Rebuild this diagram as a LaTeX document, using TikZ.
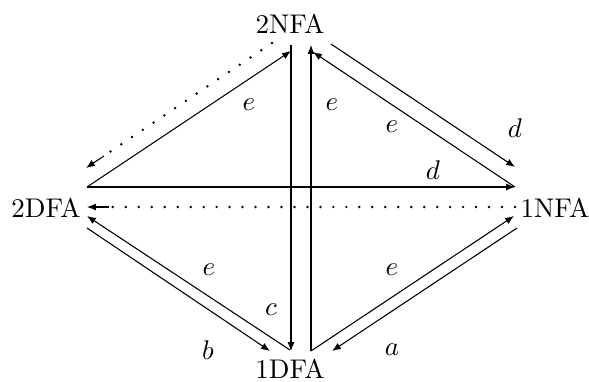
\documentclass[tikz,border=0pt]{standalone}
\usetikzlibrary{arrows.meta,calc}
\begin{document}
\begin{tikzpicture}[x=0.37pt,y=-0.37pt,
  state/.style={inner sep=0pt},
  lab/.style={inner sep=0pt},
  arr/.style={-{Latex[length=3.3pt,width=2.6pt]}},
  dotline/.style={line width=1pt,line cap=round,dash pattern=on 0pt off 4.8pt},
  tipseg/.style={-{Latex[length=3.3pt,width=2.6pt]}}]
\useasboundingbox (0,0) rectangle (589,381);
% states
\node[state] (nfa2) at (290,24) {2NFA};
\node[state] (dfa2) at (46,207.5) {2DFA};
\node[state] (nfa1) at (555,207.5) {1NFA};
\node[state] (dfa1) at (290,369) {1DFA};
% endpoints near 2NFA
\coordinate (T1) at (272,43);
\coordinate (T2) at (291,51);
\coordinate (T3) at (291,45);
\coordinate (T4) at (311,45);
\coordinate (T5) at (313,52);
\coordinate (T6) at (331,44);
% endpoints near 2DFA
\coordinate (L1) at (86,168);
\coordinate (L2) at (87,187);
\coordinate (L3) at (87,207);
\coordinate (L4) at (87,216);
\coordinate (L5) at (87,228);
% endpoints near 1NFA
\coordinate (R1) at (515,167);
\coordinate (R2) at (515,187);
\coordinate (R3) at (515,207);
\coordinate (R4) at (514,216);
\coordinate (R5) at (517,228);
% endpoints near 1DFA
\coordinate (B1) at (270,351);
\coordinate (B2) at (290,350);
\coordinate (B3) at (291,351);
\coordinate (B4) at (311,351);
\coordinate (B5) at (332,351);
% solid connectors
\draw[arr] (L2) -- (T2);
\draw[arr] (T3) -- (B3);
\draw[arr] (B4) -- (T4);
\draw[arr] (R2) -- (T5);
\draw[arr] (T6) -- (R1);
\draw[arr] (L2) -- (R2);
\draw[arr] (B2) -- (L4);
\draw[arr] (L5) -- (B1);
\draw[arr] (B4) -- (R4);
\draw[arr] (R5) -- (B5);
% dotted connectors
\draw[dotline] (T1) -- ($(L1)!8pt!(T1)$);
\draw[tipseg] ($(L1)!8pt!(T1)$) -- (L1);
\draw[dotline] (R3) -- ($(L3)!8pt!(R3)$);
\draw[tipseg] ($(L3)!8pt!(R3)$) -- (L3);
% labels
\node[lab] at (249,105) {$e$};
\node[lab] at (332,105) {$e$};
\node[lab] at (392,127) {$e$};
\node[lab] at (515,128) {$d$};
\node[lab] at (433,170) {$d$};
\node[lab] at (209,270) {$e$};
\node[lab] at (392,270) {$e$};
\node[lab] at (271,310) {$c$};
\node[lab] at (208,350) {$b$};
\node[lab] at (392,350) {$a$};
\end{tikzpicture}
\end{document}
